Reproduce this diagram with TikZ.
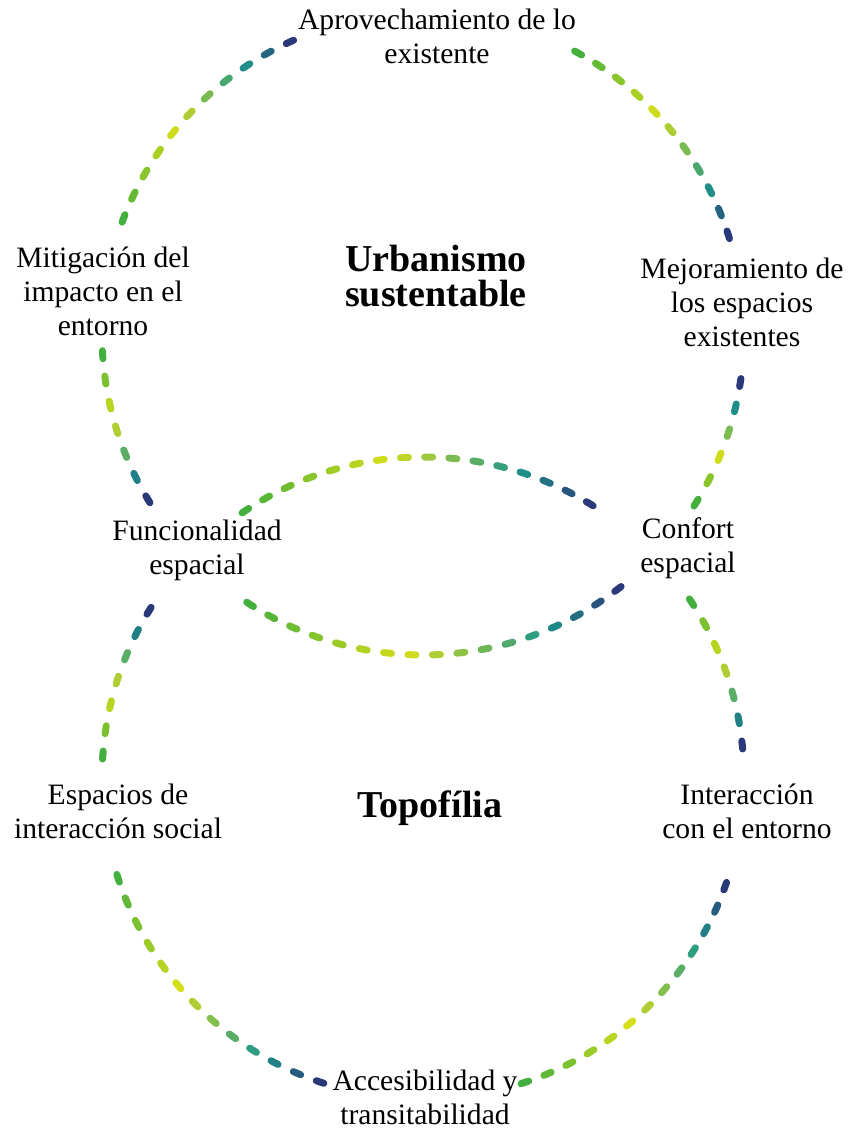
\documentclass[tikz,border=0pt]{standalone}
\usepackage{fontspec}
\setmainfont{Liberation Serif}
\usetikzlibrary{calc}
\definecolor{gradVerde}{HTML}{43AF3C}
\definecolor{gradAmarillo}{HTML}{D6DE1A}
\definecolor{gradTeal}{HTML}{1F968A}
\definecolor{gradAzul}{HTML}{29397A}

% arco de trazos con degradado: centro, radio, angulo verde, angulo azul, trazos
\newcommand{\arcoGrad}[5]{%
  \pgfmathtruncatemacro{\nUlt}{#5-1}%
  \pgfmathsetmacro{\dAng}{4/(#2)*57.2958}%
  \foreach \k in {0,...,\nUlt}{%
    \pgfmathsetmacro{\tPos}{\k/\nUlt}%
    \ifdim\tPos pt<0.42pt
      \pgfmathtruncatemacro{\pc}{100*\tPos/0.42}%
      \colorlet{colTramo}{gradAmarillo!\pc!gradVerde}%
    \else\ifdim\tPos pt<0.78pt
      \pgfmathtruncatemacro{\pc}{100*(\tPos-0.42)/0.36}%
      \colorlet{colTramo}{gradTeal!\pc!gradAmarillo}%
    \else
      \pgfmathtruncatemacro{\pc}{100*(\tPos-0.78)/0.22}%
      \colorlet{colTramo}{gradAzul!\pc!gradTeal}%
    \fi\fi
    \pgfmathsetmacro{\aIni}{(#3)+((#4)-(#3))*\tPos-\dAng}%
    \pgfmathsetmacro{\aFin}{\aIni+2*\dAng}%
    \draw[tramo, colTramo] ($(#1)+(\aIni:#2)$)
      arc[start angle=\aIni, end angle=\aFin, radius=#2];
  }%
}

\begin{document}
\begin{tikzpicture}[x=0.5pt, y=0.5pt,
    etiqueta/.style={align=center, font=\fontsize{14.8}{17}\selectfont, inner sep=0pt},
    titulo/.style={align=center, font=\fontsize{19}{17.5}\selectfont\bfseries, inner sep=0pt},
    tramo/.style={line width=3.5pt, line cap=round}]
    \useasboundingbox (0,0) rectangle (851,1141);

    \coordinate (cSup) at (423,807);
    \coordinate (cInf) at (423,363);

    \node[etiqueta] (aprov) at (437,1105) {Aprovechamiento de lo\\existente};
    \node[etiqueta] (mitig) at (103,850) {Mitigación del\\impacto en el\\entorno};
    \node[titulo] (urb) at (436,865) {Urbanismo\\sustentable};
    \node[etiqueta] (mejor) at (742,839) {Mejoramiento de\\los espacios\\existentes};
    \node[etiqueta] (func) at (197,591) {Funcionalidad\\espacial};
    \node[etiqueta] (conf) at (688,593) {Confort\\espacial};
    \node[etiqueta] (espac) at (118,330) {Espacios de\\interacción social};
    \node[titulo] (topo) at (430,333) {Topofília};
    \node[etiqueta] (inter) at (747,330) {Interacción\\con el entorno};
    \node[etiqueta] (acces) at (425,44) {Accesibilidad y\\transitabilidad};

    % circulo superior
    \arcoGrad{cSup}{321}{158.9}{114.5}{11}
    \arcoGrad{cSup}{321}{61.1}{18}{11}
    \arcoGrad{cSup}{321}{183.7}{211}{7}
    \arcoGrad{cSup}{321}{-31.7}{-8.7}{6}
    \arcoGrad{cSup}{321}{237.4}{307.4}{17}
    % circulo inferior
    \arcoGrad{cInf}{321}{123.6}{58.7}{16}
    \arcoGrad{cInf}{321}{175.9}{148.6}{7}
    \arcoGrad{cInf}{321}{33.2}{5.9}{7}
    \arcoGrad{cInf}{321}{198.2}{251.3}{13}
    \arcoGrad{cInf}{321}{288.5}{340.3}{13}
\end{tikzpicture}
\end{document}
